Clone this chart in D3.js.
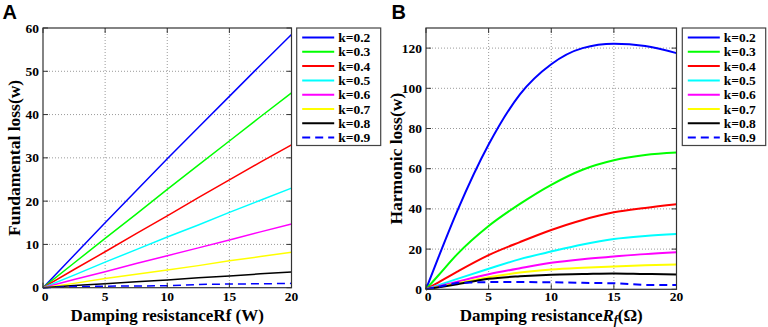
<!DOCTYPE html>
<html>
<head>
<meta charset="utf-8">
<script src="https://cdn.jsdelivr.net/npm/d3@7"></script>
<style>
  body { margin: 0; background: #fff; }
  svg { display: block; }
  text { font-family: "Liberation Serif", "Times New Roman", serif; font-weight: bold; fill: #000; }
</style>
</head>
<body>
<svg id="chart" width="768" height="327"></svg>
<script>
// series labels + colours (MATLAB defaults)
const kLabels = ['k=0.2', 'k=0.3', 'k=0.4', 'k=0.5', 'k=0.6', 'k=0.7', 'k=0.8', 'k=0.9'];
const kColors = ['#0000ff', '#00ff00', '#ff0000', '#00ffff', '#ff00ff', '#ffff00', '#000000', '#0000ff'];

// panel A: fundamental loss vs Rf
const xA = [0, 2.5, 5, 7.5, 10, 12.5, 15, 17.5, 20];
const lossA = [
  [0, 7.5, 15, 22.4, 29.8, 37, 44.2, 51.4, 58.5],
  [0, 5.7, 11.4, 17, 22.7, 28.3, 33.9, 39.5, 45],
  [0, 4.2, 8.3, 12.5, 16.6, 20.8, 24.9, 29, 33],
  [0, 2.9, 5.9, 8.8, 11.7, 14.5, 17.4, 20.2, 23],
  [0, 1.9, 3.7, 5.6, 7.4, 9.2, 11, 12.9, 14.7],
  [0, 1.0, 2.1, 3.1, 4.1, 5.1, 6.2, 7.2, 8.2],
  [0, 0.5, 0.9, 1.4, 1.8, 2.3, 2.7, 3.2, 3.6],
  [0, 0.25, 0.35, 0.4, 0.45, 0.75, 0.85, 0.9, 1.0]
];
const yTicksA = [0, 10, 20, 30, 40, 50, 60];

// panel B: harmonic loss vs Rf
const xB = [0, 1, 2.5, 5, 7.5, 10, 12.5, 15, 17.5, 20];
const lossB = [
  [0, 16, 39, 72, 97, 112, 120, 122.2, 121, 117.5],
  [0, 7, 17.5, 31.5, 42.5, 52, 59.5, 64.2, 66.8, 68],
  [0, 3.5, 8.8, 17, 23.5, 29.5, 34.5, 38.3, 40.5, 42.3],
  [0, 2.1, 5.2, 10.2, 15, 18.8, 22.3, 25, 26.5, 27.5],
  [0, 1.5, 3.8, 7.5, 10.5, 13.2, 15, 16.3, 17.5, 18.4],
  [0, 1.2, 3, 6, 8.3, 9.8, 10.7, 11.4, 12, 12.4],
  [0, 1, 2.5, 5.2, 6.5, 7.3, 7.6, 7.9, 7.6, 7.4],
  [0, 1.3, 3.2, 3.6, 3.6, 3.5, 3.2, 3.0, 2.2, 2.2]
];
const yTicksB = [0, 20, 40, 60, 80, 100, 120];
const xTicks = [0, 5, 10, 15, 20];

const svg = d3.select('#chart');

function drawPanel(cfg) {
  const { left, right, top, bottom } = cfg;
  const x = d3.scaleLinear().domain([0, 20]).range([left, right]);
  const y = d3.scaleLinear().domain(cfg.yDomain).range([bottom, top]);
  const g = svg.append('g');

  // dotted grid
  g.append('g').selectAll('line').data(xTicks.slice(1, -1)).join('line')
    .attr('x1', d => x(d)).attr('x2', d => x(d)).attr('y1', top).attr('y2', bottom)
    .attr('stroke', '#9a9a9a').attr('stroke-width', 1).attr('stroke-dasharray', '1,2');
  g.append('g').selectAll('line').data(cfg.yTicks.filter(t => t > cfg.yDomain[0] && t < cfg.yDomain[1])).join('line')
    .attr('x1', left).attr('x2', right).attr('y1', d => y(d)).attr('y2', d => y(d))
    .attr('stroke', '#9a9a9a').attr('stroke-width', 1).attr('stroke-dasharray', '1,2');

  // series
  cfg.data.forEach((vals, i) => {
    const pts = cfg.xs.map((xv, j) => [xv, vals[j]]);
    const line = d3.line().x(d => x(d[0])).y(d => y(d[1]))
      .curve(cfg.smooth && i < 7 ? d3.curveMonotoneX : d3.curveLinear);
    g.append('path').datum(pts)
      .attr('d', line)
      .attr('fill', 'none')
      .attr('stroke', kColors[i])
      .attr('stroke-width', cfg.lineWidth)
      .attr('stroke-dasharray', i === 7 ? '8,5' : null);
  });

  // inward ticks on all four sides
  const tk = 5;
  const ticks = g.append('g').attr('stroke', '#333').attr('stroke-width', 1);
  xTicks.forEach(t => {
    ticks.append('line').attr('x1', x(t)).attr('x2', x(t)).attr('y1', bottom).attr('y2', bottom - tk);
    ticks.append('line').attr('x1', x(t)).attr('x2', x(t)).attr('y1', top).attr('y2', top + tk);
  });
  cfg.yTicks.forEach(t => {
    ticks.append('line').attr('x1', left).attr('x2', left + tk).attr('y1', y(t)).attr('y2', y(t));
    ticks.append('line').attr('x1', right).attr('x2', right - tk).attr('y1', y(t)).attr('y2', y(t));
  });

  // frame
  g.append('rect').attr('x', left).attr('y', top).attr('width', right - left).attr('height', bottom - top)
    .attr('fill', 'none').attr('stroke', '#333').attr('stroke-width', 1.2);

  // tick labels
  g.append('g').selectAll('text').data(xTicks).join('text')
    .attr('x', d => x(d) + (d === 0 ? 2 : 0)).attr('y', 300.5)
    .attr('text-anchor', 'middle').attr('font-size', 13.5).text(d => d);
  g.append('g').selectAll('text').data(cfg.yTicks).join('text')
    .attr('x', left - 4).attr('y', d => y(d) + 4.5)
    .attr('text-anchor', 'end').attr('font-size', 13.5).text(d => d);

  // axis titles
  svg.append('text')
    .attr('transform', `translate(${cfg.yTitleX},${(top + bottom) / 2}) rotate(-90)`)
    .attr('text-anchor', 'middle').attr('font-size', 17.5)
    .text(cfg.yTitle);

  const xt = svg.append('text')
    .attr('x', (left + right) / 2).attr('y', 320.5)
    .attr('text-anchor', 'middle').attr('font-size', 17);
  cfg.xTitle(xt);

  // panel letter
  svg.append('text').attr('x', cfg.letterX).attr('y', 18.5)
    .style('font-family', '"Liberation Sans", Arial, sans-serif')
    .attr('font-size', 20).text(cfg.letter);

  // legend
  const lg = svg.append('g');
  lg.append('rect').attr('x', cfg.legend.x).attr('y', top).attr('width', cfg.legend.w).attr('height', 117.5)
    .attr('fill', '#fff').attr('stroke', '#444').attr('stroke-width', 1.2);
  kLabels.forEach((lab, i) => {
    const ly = top + 9.5 + i * 14.3;
    lg.append('line')
      .attr('x1', cfg.legend.x + 5.5).attr('x2', cfg.legend.x + 37.5)
      .attr('y1', ly).attr('y2', ly)
      .attr('stroke', kColors[i]).attr('stroke-width', 2)
      .attr('stroke-dasharray', i === 7 ? '8,5' : null);
    lg.append('text').attr('x', cfg.legend.x + 41.5).attr('y', ly + 4.5)
      .attr('font-size', 13.5).text(lab);
  });
}

drawPanel({
  left: 43, right: 291.5, top: 28, bottom: 287.7,
  yDomain: [0, 60], yTicks: yTicksA, xs: xA, data: lossA,
  smooth: false, lineWidth: 1.5,
  yTitle: 'Fundamental loss(w)', yTitleX: 20,
  xTitle: t => t.text('Damping resistanceRf (W)'),
  letter: 'A', letterX: 2.5,
  legend: { x: 296.7, w: 84 }
});

drawPanel({
  left: 426, right: 676.5, top: 28, bottom: 289.3,
  yDomain: [0, 130], yTicks: yTicksB, xs: xB, data: lossB,
  smooth: true, lineWidth: 2,
  yTitle: 'Harmonic loss(w)', yTitleX: 402,
  xTitle: t => {
    t.append('tspan').text('Damping resistance');
    t.append('tspan').attr('font-style', 'italic').text('R');
    t.append('tspan').attr('font-style', 'italic').attr('font-size', 12).attr('dy', 3).text('f');
    t.append('tspan').attr('dy', -3).text('(Ω)');
  },
  letter: 'B', letterX: 391.5,
  legend: { x: 682.3, w: 83.4 }
});
</script>
</body>
</html>
